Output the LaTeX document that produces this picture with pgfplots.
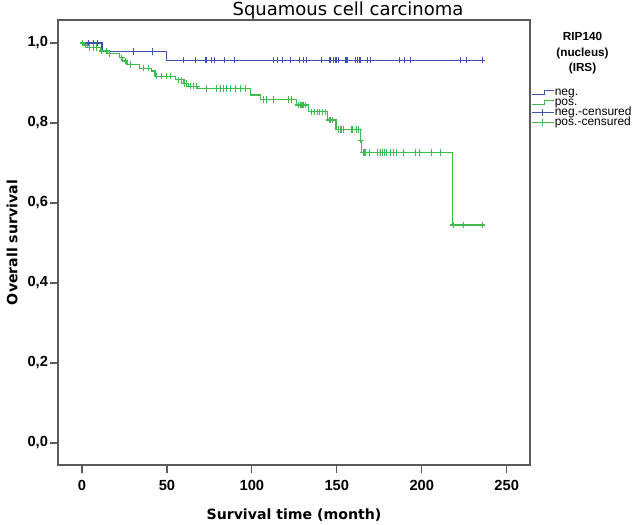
\documentclass[border=0pt]{standalone}
\usepackage{fontspec}
\setmainfont{Liberation Sans}
\newfontfamily\djv{DejaVu Sans}
\usepackage{pgfplots}
\usepackage{pgfplotstable}
\pgfplotsset{compat=1.18}
\definecolor{negc}{RGB}{62,84,172}
\definecolor{posc}{RGB}{64,186,78}
\definecolor{framec}{RGB}{90,90,90}
\pgfplotsset{
  stepicon/.style={legend image code/.code={\draw[##1] (0pt,-1.5pt) -- (9.5pt,-1.5pt) -- (9.5pt,1.5pt) -- (16pt,1.5pt);}},
  censicon/.style={legend image code/.code={\draw[mark repeat=2,mark phase=2,##1] plot coordinates {(0pt,0pt) (8pt,0pt) (16pt,0pt)};}},
}

% step curves: time, survival (value holds from this time on)
\pgfplotstableread{
t s
0 1.000
11.8 0.979
50 0.957
235.6 0.957
}\negcurve
\pgfplotstableread{
t s
0 1.000
1 0.995
3.5 0.989
11 0.980
15 0.973
22 0.963
24 0.955
26.5 0.946
34 0.937
41 0.930
43 0.917
55 0.908
59.5 0.899
62.5 0.892
68 0.886
99 0.870
105 0.859
126 0.845
133.5 0.828
144.5 0.8075
149.5 0.784
163.7 0.757
164.7 0.726
218 0.545
237 0.545
}\poscurve
% censored observations
\pgfplotstableread{
t s
3.9 1.000
6.8 1.000
9.4 1.000
30.5 0.979
41.5 0.979
60 0.957
67 0.957
73 0.957
76 0.957
78 0.957
84 0.957
90 0.957
113 0.957
115 0.957
118 0.957
122.5 0.957
128 0.957
130.5 0.957
132 0.957
141 0.957
146 0.957
148 0.957
149.5 0.957
151 0.957
155 0.957
156 0.957
161 0.957
162 0.957
163.5 0.957
164 0.957
168 0.957
170 0.957
187 0.957
190 0.957
193.5 0.957
223 0.957
226.5 0.957
235.6 0.957
}\negcens
\pgfplotstableread{
t s
0.5 1.000
1.9 0.995
4.5 0.989
6.8 0.989
8.8 0.989
11.7 0.980
14.7 0.980
16.3 0.973
23.5 0.963
25.5 0.955
28.4 0.946
36.3 0.937
39.2 0.937
44.1 0.917
47 0.917
49.6 0.917
52 0.917
56.8 0.908
58.8 0.908
60.2 0.899
61.3 0.899
63.7 0.892
65.7 0.892
67.6 0.892
73.5 0.886
79.4 0.886
81.4 0.886
83.3 0.886
85.3 0.886
87.6 0.886
90.2 0.886
93.1 0.886
96.1 0.886
106.8 0.859
108.8 0.859
112.7 0.859
121.6 0.859
123.5 0.859
127.4 0.845
128.5 0.845
129.5 0.845
130.5 0.845
131.5 0.845
135.3 0.828
137 0.828
138.5 0.828
140 0.828
141.5 0.828
143.1 0.828
145.5 0.8075
146.5 0.8075
147.6 0.8075
151 0.784
152 0.784
153 0.784
154 0.784
158.8 0.784
159.5 0.784
161.5 0.784
162.7 0.784
164.2 0.757
165.5 0.726
166.6 0.726
169.2 0.726
174.1 0.726
175.5 0.726
177 0.726
178 0.726
179 0.726
181.4 0.726
183.3 0.726
185.3 0.726
189.2 0.726
196.1 0.726
198.6 0.726
205.9 0.726
210.8 0.726
218.6 0.545
224.5 0.545
235.6 0.545
}\poscens

\begin{document}
\begin{tikzpicture}
\begin{axis}[
  name=ax,
  scale only axis,
  width=354pt, height=333.75pt,
  xmin=-14.1, xmax=263.7,
  ymin=-0.055, ymax=1.0575,
  axis line style={framec, line width=0.9pt},
  tick style={framec, line width=0.9pt},
  tick align=outside,
  major tick length=6pt,
  xtick pos=bottom, ytick pos=left,
  xtick={0,50,100,150,200,250},
  ytick={0,0.2,0.4,0.6,0.8,1.0},
  yticklabels={{0,0},{0,2},{0,4},{0,6},{0,8},{1,0}},
  /pgf/number format/assume math mode=true,
  ticklabel style={font=\rmfamily\fontsize{11}{13}\selectfont\bfseries},
  xticklabel style={yshift=-2pt},
  yticklabel style={xshift=2pt},
  xlabel={Survival time (month)},
  ylabel={Overall survival},
  every axis x label/.style={at={(rel axis cs:0.5,0)}, anchor=center, yshift=-37.5pt,
    font=\djv\fontsize{10.6}{13}\selectfont\bfseries},
  every axis y label/.style={at={(rel axis cs:0,0.5)}, anchor=center, xshift=-34.5pt, rotate=90,
    font=\djv\fontsize{10.6}{13}\selectfont\bfseries},
  legend cell align=left,
  legend style={at={(rel axis cs:1.003,0.85)}, anchor=north west, draw=none, fill=none,
    font=\rmfamily\fontsize{9}{9}\selectfont, inner sep=0pt, row sep=0pt,
    nodes={inner xsep=0.6pt, inner ysep=0pt, text height=6pt, text depth=1.6pt}},
]
\addlegendimage{stepicon, negc, line width=0.75pt}
\addlegendentry{neg.}
\addlegendimage{stepicon, posc, line width=0.75pt}
\addlegendentry{pos.}
\addlegendimage{censicon, negc, line width=0.75pt, mark=+, mark size=2.4pt}
\addlegendentry{neg.-censured}
\addlegendimage{censicon, posc, line width=0.75pt, mark=+, mark size=2.4pt}
\addlegendentry{pos.-censured}

\addplot[const plot, negc, line width=0.8pt, forget plot] table[x=t,y=s] {\negcurve};
\addplot[const plot, posc, line width=0.8pt, forget plot] table[x=t,y=s] {\poscurve};
\addplot[only marks, mark=+, mark size=2.4pt, negc, line width=0.8pt, forget plot] table[x=t,y=s] {\negcens};
\addplot[only marks, mark=+, mark size=2.4pt, posc, line width=0.8pt, forget plot] table[x=t,y=s] {\poscens};
\end{axis}
\node[anchor=base, font=\djv\fontsize{13.5}{16}\selectfont] at ([xshift=217.5pt,yshift=3.3pt]ax.north west) {Squamous cell carcinoma};
\node[anchor=north, align=center, font=\rmfamily\fontsize{8.8}{11.5}\selectfont\bfseries] at ([xshift=39.4pt,yshift=-6pt]ax.north east) {RIP140\\(nucleus)\\(IRS)};
\pgfresetboundingbox
\path[use as bounding box] ([xshift=-43.5pt,yshift=-44.25pt]ax.south west) rectangle ([xshift=83.25pt,yshift=15pt]ax.north east);
\end{tikzpicture}
\end{document}
